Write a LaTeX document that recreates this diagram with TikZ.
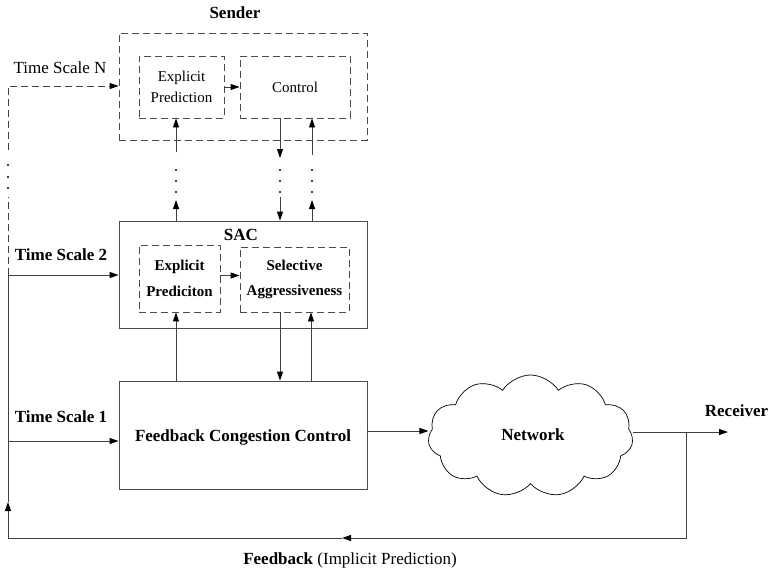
\documentclass[tikz,border=0pt]{standalone}
\usepackage{fontspec}
\setmainfont{Liberation Serif}
\usetikzlibrary{arrows.meta,shapes.symbols}

\begin{document}
\begin{tikzpicture}[x=1pt,y=-1pt,>={Triangle[length=9pt,width=6pt,color=black]}]
\tikzstyle{every node}+=[font=\fontsize{17}{20}\selectfont]
\tikzstyle{outer}=[draw=black!70, line width=0.9pt, minimum width=248pt, minimum height=107pt]
\tikzstyle{inner}=[draw=black!70, line width=0.9pt, dash pattern=on 7pt off 4pt, align=center]
\tikzstyle{ln}=[black!75, line width=0.9pt]
\useasboundingbox (0,0) rectangle (773,571);
% sender
\node at (235,13) {\textbf{Sender}};
\node [outer, dash pattern=on 7pt off 4pt] (sender) at (243,86.5) {};
\node [inner, minimum width=85pt, minimum height=62pt, font=\fontsize{15}{21}\selectfont] (epN) at (181.5,87) {Explicit\\Prediction};
\node [inner, minimum width=110pt, minimum height=62pt, font=\fontsize{15}{21}\selectfont] (ctrl) at (295,87) {Control};
\draw [ln,->] (epN.east) -- (ctrl.west);
% SAC
\node [outer] (sac) at (243,274.5) {};
\node at (241,235) {\textbf{SAC}};
\node [inner, minimum width=81pt, minimum height=67pt, font=\fontsize{15}{26}\bfseries] (epS) at (179.5,278.5) {Explicit\\Prediciton};
\node [inner, minimum width=109pt, minimum height=65pt, font=\fontsize{15}{25}\bfseries] (sa) at (294.5,279.5) {Selective\\Aggressiveness};
\draw [ln,->] ([yshift=3pt]epS.east) -- ([yshift=3pt]epS.east -| sa.west);
% feedback congestion control
\node [outer, minimum height=108pt] (fcc) at (243,435) {};
\node at (243,437) {\textbf{Feedback Congestion Control}};
% network
\node [cloud, draw=black, line width=0.7pt, cloud puffs=11, cloud puff arc=115, aspect=1.7,
  minimum width=205pt, minimum height=122pt] (net) at (530.5,436) {};
\node at (533,435) {\textbf{Network}};
\node at (736.5,411) {\textbf{Receiver}};
\node at (350,560) {\textbf{Feedback} (Implicit Prediction)};
% time scale labels
\node at (60,68) {Time Scale N};
\node at (61,255) {\textbf{Time Scale 2}};
\node at (61,417) {\textbf{Time Scale 1}};
% SAC <-> FCC
\draw [ln,->] (fcc.north -| 176,0) -- (epS.south -| 176,0);
\draw [ln,->] (sa.south -| 280,0) -- (fcc.north -| 280,0);
\draw [ln,->] (fcc.north -| 311,0) -- (sa.south -| 311,0);
% SAC <-> sender, with gaps
\coordinate (a1) at (176,200);
\coordinate (a2) at (176,152);
\draw [ln,->] (sac.north -| a1) -- (a1);
\draw [ln,->] (a2) -- (epN.south -| a2);
\coordinate (b1) at (280,158);
\coordinate (b2) at (280,197);
\draw [ln,->] (ctrl.south -| b1) -- (b1);
\draw [ln,->] (b2) -- (sac.north -| b2);
\coordinate (c1) at (312,200);
\coordinate (c2) at (312,155);
\draw [ln,->] (sac.north -| c1) -- (c1);
\draw [ln,->] (c2) -- (ctrl.south -| c2);
\foreach \x in {176,280,312}
  \foreach \y in {170,181,192}
    \fill (\x,\y) circle (1.1pt);
% network links
\draw [ln,->] ([yshift=4pt]fcc.east) -- ([yshift=4pt]fcc.east -| net.west);
\coordinate (rcv) at (728,432);
\coordinate (fbA) at (686,432);
\coordinate (fbC) at (342,538);
\coordinate (fbD) at (8,538);
\coordinate (fbE) at (8,502);
\draw [ln,->] (net.east |- rcv) -- (rcv);
\draw [ln,->] (fbA) |- (fbC);
\draw [ln,->] (fbC) -- (fbD) -- (fbE);
% time scale feeds
\coordinate (ts1) at (8,441);
\coordinate (ts2) at (8,275);
\coordinate (tsN) at (8,86);
\draw [ln] (fbE) -- (ts2);
\draw [ln,->] (ts1) -- (ts1 -| fcc.west);
\draw [ln,->] (ts2) -- (ts2 -| sac.west);
\draw [ln,dash pattern=on 7pt off 4pt] (ts2) -- (8,197);
\draw [ln,dash pattern=on 7pt off 4pt,->] (8,150) -- (tsN) -- (tsN -| sender.west);
\foreach \y in {165,177,188}
  \fill (8,\y) circle (1.1pt);
\end{tikzpicture}
\end{document}
